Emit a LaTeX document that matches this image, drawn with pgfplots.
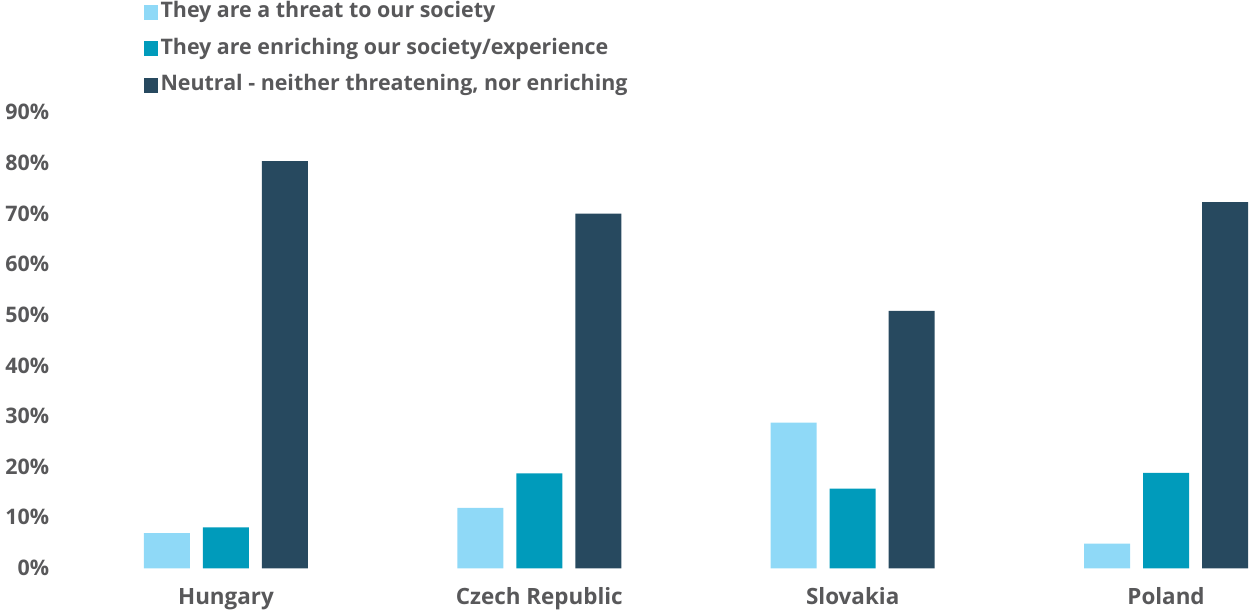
\documentclass[border=0pt]{standalone}
\usepackage{pgfplots}
\pgfplotsset{compat=1.18}
\usepackage{fontspec}
\setmainfont{Open Sans}
\definecolor{cLight}{HTML}{8FD9F7}
\definecolor{cTeal}{HTML}{009BBB}
\definecolor{cDark}{HTML}{27495F}
\definecolor{textgray}{HTML}{58585A}
\begin{document}
\begin{tikzpicture}[x=1bp,y=1bp]
\path[use as bounding box] (0,0) rectangle (1250,612);
\begin{axis}[
  at={(69.3bp,43.5bp)}, anchor=south west,
  scale only axis, width=1180.7bp, height=455.5bp,
  xmin=-0.5, xmax=3.268, ymin=0, ymax=90,
  clip=false,
  axis line style={draw=none}, tick style={draw=none},
  ybar=13bp, bar width=46bp,
  xtick={0,1,2,3},
  xticklabels={Hungary,Czech Republic,Slovakia,Poland},
  ytick={0,10,...,90},
  yticklabel={\pgfmathprintnumber{\tick}\%},
  /pgf/number format/assume math mode=true,
  ticklabel style={font=\fontsize{21.5}{21.5}\selectfont\bfseries, text=textgray},
  xticklabel style={anchor=base, inner sep=0pt, yshift=-32bp, font=\fontsize{22.5}{22.5}\selectfont\bfseries},
  yticklabel style={anchor=base east, inner sep=0pt, xshift=-20bp, yshift=-7bp},
  legend cell align=left,
  legend image code/.code={\fill[#1] (0bp,-7bp) rectangle (14bp,8bp); \path (16.5bp,0bp);},
  legend style={at={(axis description cs:0.0633,1.242)}, anchor=north west,
    draw=none, fill=none, inner sep=0pt, outer sep=0pt,
    font=\fontsize{21.5}{21.5}\selectfont\bfseries, text=textgray,
    nodes={inner sep=0pt, text height=15bp, text depth=5bp},
    row sep=16.5bp},
]
\addplot[fill=cLight, draw=none] coordinates {(0,7) (1,12) (2,28.8) (3,4.9)};
\addplot[fill=cTeal, draw=none] coordinates {(0,8.1) (1,18.8) (2,15.8) (3,18.9)};
\addplot[fill=cDark, draw=none] coordinates {(0,80.5) (1,70.1) (2,50.9) (3,72.4)};
\legend{They are a threat to our society, They are enriching our society/experience, {Neutral - neither threatening, nor enriching}}
\end{axis}
\end{tikzpicture}
\end{document}
